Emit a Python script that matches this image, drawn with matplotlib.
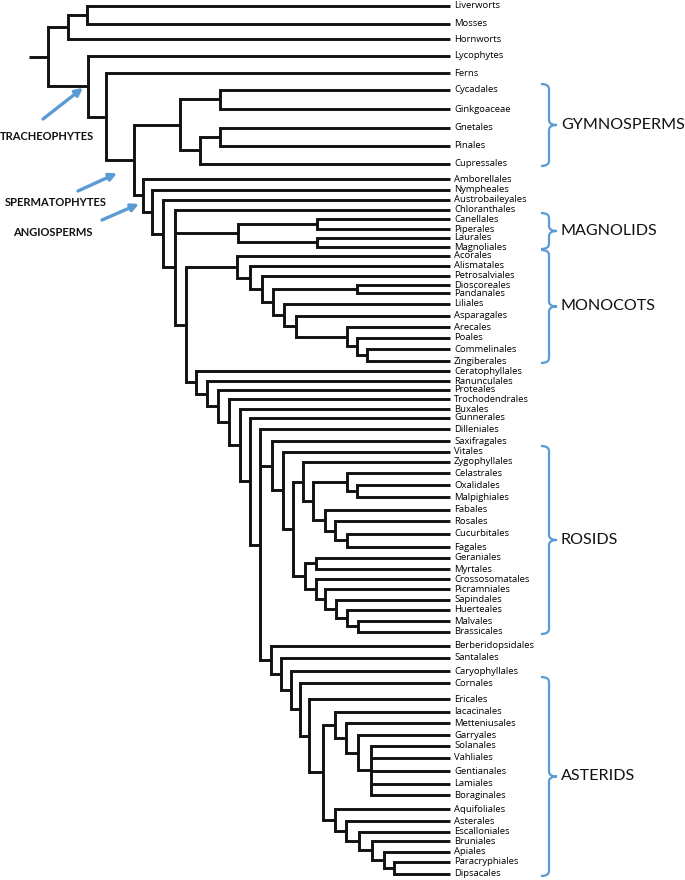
import matplotlib
matplotlib.use('Agg')
import matplotlib.pyplot as plt
from matplotlib.path import Path
from matplotlib.patches import PathPatch, FancyArrowPatch

# ---------------- data ----------------
leaf_names = ['Liverworts', 'Mosses', 'Hornworts', 'Lycophytes', 'Ferns', 'Cycadales',
              'Ginkgoaceae', 'Gnetales', 'Pinales', 'Cupressales', 'Amborellales',
              'Nympheales', 'Austrobaileyales', 'Chloranthales', 'Canellales', 'Piperales',
              'Laurales', 'Magnoliales', 'Acorales', 'Alismatales', 'Petrosalviales',
              'Dioscoreales', 'Pandanales', 'Liliales', 'Asparagales', 'Arecales', 'Poales',
              'Commelinales', 'Zingiberales', 'Ceratophyllales', 'Ranunculales', 'Proteales',
              'Trochodendrales', 'Buxales', 'Gunnerales', 'Dilleniales', 'Saxifragales',
              'Vitales', 'Zygophyllales', 'Celastrales', 'Oxalidales', 'Malpighiales',
              'Fabales', 'Rosales', 'Cucurbitales', 'Fagales', 'Geraniales', 'Myrtales',
              'Crossosomatales', 'Picramniales', 'Sapindales', 'Huerteales', 'Malvales',
              'Brassicales', 'Berberidopsidales', 'Santalales', 'Caryophyllales', 'Cornales',
              'Ericales', 'Iacacinales', 'Metteniusales', 'Garryales', 'Solanales',
              'Vahliales', 'Gentianales', 'Lamiales', 'Boraginales', 'Aquifoliales',
              'Asterales', 'Escalloniales', 'Bruniales', 'Apiales', 'Paracryphiales',
              'Dipsacales']
leaf_rows = [6, 24, 39, 56, 73, 90, 109, 128, 146, 164, 179, 190, 200, 210, 219, 229, 238,
             247, 256, 266, 276, 285, 293, 304, 316, 327, 338, 349, 361, 371, 381, 390, 399,
             409, 418, 429, 441, 452, 462, 473, 485, 497, 510, 521, 534, 547, 558, 569, 579,
             589, 600, 610, 621, 632, 646, 658, 671, 683, 699, 712, 723, 735, 746, 758, 771,
             784, 795, 809, 821, 832, 841, 852, 862, 874]
leaf_tip = 450

node_names = ['root', 'bryo', 'livmoss', 'trach', 'euphyl', 'sperm', 'gymno', 'cycgink',
              'conif', 'gnepin', 'angio', 'n1', 'n2', 'mesang', 'magnoliids', 'canpip',
              'laumag', 'n3', 'monocots', 'm1', 'm2', 'm3', 'diopan', 'm4', 'm5',
              'commelinids', 'm6', 'm7', 'n4', 'eudicots', 'e1', 'e2', 'e3', 'core', 'penta',
              'superrosids', 'rosids', 'r1', 'fabids', 'f1', 'COM', 'om', 'nfix', 'nf1', 'nf2',
              'malvids', 'germyr', 'mv1', 'mv2', 'mv3', 'mv4', 'mv5', 'superasterids', 'sa1',
              'sa2', 'asterids', 'a1', 'a2', 'lamiids', 'l1', 'l2', 'l3', 'campanulids', 'c1',
              'c2', 'c3', 'c4', 'c5']
node_depth = [48, 68, 87, 88, 106, 134, 180, 220,
              200, 220, 143, 152, 163, 175, 238, 317,
              317, 186, 237, 250, 262, 273, 357, 284, 296,
              347, 357, 367, 196, 207, 218, 229, 240, 250, 260,
              272, 283, 293, 303, 313, 347, 357, 325, 335, 347,
              305, 316, 316, 325, 336, 347, 358, 271, 281,
              291, 300, 309, 323, 335, 346, 358, 371, 335, 346,
              359, 372, 384, 394]
node_children = [
    ['bryo', 'trach'], ['livmoss', 'Hornworts'], ['Liverworts', 'Mosses'],
    ['Lycophytes', 'euphyl'], ['Ferns', 'sperm'], ['gymno', 'angio'],
    ['cycgink', 'conif'], ['Cycadales', 'Ginkgoaceae'], ['gnepin', 'Cupressales'],
    ['Gnetales', 'Pinales'], ['Amborellales', 'n1'], ['Nympheales', 'n2'],
    ['Austrobaileyales', 'mesang'], ['Chloranthales', 'magnoliids', 'n3'],
    ['canpip', 'laumag'], ['Canellales', 'Piperales'], ['Laurales', 'Magnoliales'],
    ['monocots', 'n4'], ['Acorales', 'm1'], ['Alismatales', 'm2'], ['Petrosalviales', 'm3'],
    ['diopan', 'm4'], ['Dioscoreales', 'Pandanales'], ['Liliales', 'm5'],
    ['Asparagales', 'commelinids'], ['Arecales', 'm6'], ['Poales', 'm7'],
    ['Commelinales', 'Zingiberales'], ['Ceratophyllales', 'eudicots'],
    ['Ranunculales', 'e1'], ['Proteales', 'e2'], ['Trochodendrales', 'e3'],
    ['Buxales', 'core'], ['Gunnerales', 'penta'],
    ['Dilleniales', 'superrosids', 'superasterids'], ['Saxifragales', 'rosids'],
    ['Vitales', 'r1'], ['fabids', 'malvids'], ['Zygophyllales', 'f1'], ['COM', 'nfix'],
    ['Celastrales', 'om'], ['Oxalidales', 'Malpighiales'], ['Fabales', 'nf1'],
    ['Rosales', 'nf2'], ['Cucurbitales', 'Fagales'], ['germyr', 'mv1'],
    ['Geraniales', 'Myrtales'], ['Crossosomatales', 'mv2'], ['Picramniales', 'mv3'],
    ['Sapindales', 'mv4'], ['Huerteales', 'mv5'], ['Malvales', 'Brassicales'],
    ['Berberidopsidales', 'sa1'], ['Santalales', 'sa2'], ['Caryophyllales', 'asterids'],
    ['Cornales', 'a1'], ['Ericales', 'a2'], ['lamiids', 'campanulids'],
    ['Iacacinales', 'l1'], ['Metteniusales', 'l2'], ['Garryales', 'l3'],
    ['Solanales', 'Vahliales', 'Gentianales', 'Lamiales', 'Boraginales'],
    ['Aquifoliales', 'c1'], ['Asterales', 'c2'], ['Escalloniales', 'c3'],
    ['Bruniales', 'c4'], ['Apiales', 'c5'], ['Paracryphiales', 'Dipsacales']]

group_labels = ['GYMNOSPERMS', 'MAGNOLIDS', 'MONOCOTS', 'ROSIDS', 'ASTERIDS']
group_first = ['Cycadales', 'Canellales', 'Acorales', 'Vitales', 'Cornales']
group_last = ['Cupressales', 'Magnoliales', 'Zingiberales', 'Brassicales', 'Dipsacales']

clade_labels = ['TRACHEOPHYTES', 'SPERMATOPHYTES', 'ANGIOSPERMS']
clade_nodes = ['trach', 'sperm', 'angio']

# ---------------- layout ----------------
LINE = '#111111'
BLUE = '#5b9bd5'
FONT = ['Lato', 'DejaVu Sans']
LEAF_FONT = ['Open Sans', 'DejaVu Sans']

fig = plt.figure(figsize=(6.85, 8.8), dpi=100)
ax = fig.add_axes([0, 0, 1, 1])
ax.set_xlim(0, 685)
ax.set_ylim(880, 0)
ax.axis('off')

ypos = dict(zip(leaf_names, leaf_rows))
xpos = {n: leaf_tip for n in leaf_names}
depth = dict(zip(node_names, node_depth))
kids = dict(zip(node_names, node_children))


def gety(n):
    if n in ypos:
        return ypos[n]
    ys = [gety(c) for c in kids[n]]
    ypos[n] = (ys[0] + ys[-1]) / 2
    return ypos[n]


for n in node_names:
    gety(n)
    xpos[n] = depth[n]

lw = 2.1
for n in node_names:
    x = xpos[n]
    ch = kids[n]
    c0, c1 = ch[0], ch[-1]
    ax.plot([xpos[c0], x, x, xpos[c1]], [ypos[c0], ypos[c0], ypos[c1], ypos[c1]],
            color=LINE, lw=lw, solid_joinstyle='miter', solid_capstyle='butt')
    for c in ch[1:-1]:
        ax.plot([x, xpos[c]], [ypos[c], ypos[c]], color=LINE, lw=lw, solid_capstyle='butt')

# root stub
ax.plot([29, xpos['root']], [ypos['root'], ypos['root']], color=LINE, lw=lw,
        solid_capstyle='butt')

for name in leaf_names:
    ax.text(leaf_tip + 4, ypos[name], name, fontsize=6.8, family=LEAF_FONT,
            va='center', ha='left', color='#000000')


def brace(y0, y1, x0=541, x1=549, tip=557, r=5):
    ym = (y0 + y1) / 2
    verts = [(x0, y0), (x1, y0), (x1, y0 + r), (x1, ym - r), (x1, ym), (tip, ym),
             (x1, ym), (x1, ym + r), (x1, y1 - r), (x1, y1), (x0, y1)]
    codes = [Path.MOVETO, Path.CURVE3, Path.CURVE3, Path.LINETO, Path.CURVE3, Path.CURVE3,
             Path.CURVE3, Path.CURVE3, Path.LINETO, Path.CURVE3, Path.CURVE3]
    ax.add_patch(PathPatch(Path(verts, codes), fill=False, edgecolor=BLUE, lw=1.6))
    return ym


for lab, f, l in zip(group_labels, group_first, group_last):
    ym = brace(ypos[f] - 6, ypos[l] + 2)
    ax.text(561, ym, lab, fontsize=11.6, family=FONT, va='center', ha='left',
            color='#111111')

# clade arrows
text_pos = [(0, 137), (5, 203), (13, 232)]
arrow_tail = [(43, 119), (78, 191), (102, 220)]
arrow_off = [(-5, 1.5), (-17, 13), (-4, 8.5)]
for lab, node, tp, tail, off in zip(clade_labels, clade_nodes, text_pos, arrow_tail, arrow_off):
    ax.text(tp[0], tp[1], lab, fontsize=8.0, family=FONT, weight='bold',
            va='center', ha='left', color='#111111')
    tip = (xpos[node] + off[0], ypos[node] + off[1])
    ax.add_patch(FancyArrowPatch(tail, tip, arrowstyle='-|>', mutation_scale=11,
                                 color=BLUE, lw=2.4, shrinkA=0, shrinkB=0))

fig.savefig('out.png', dpi=100)
